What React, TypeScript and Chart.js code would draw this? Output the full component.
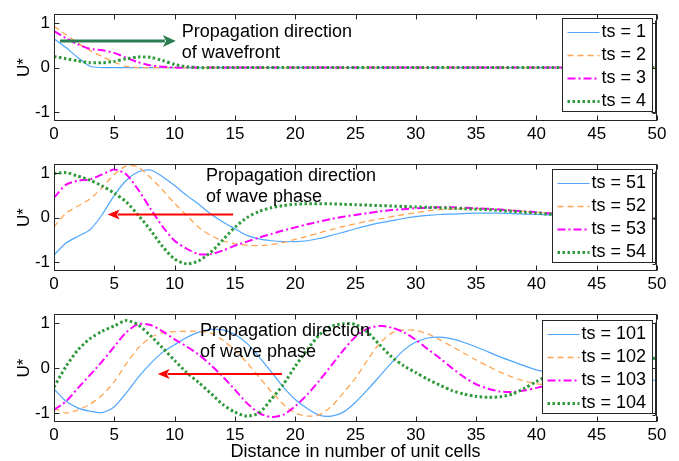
import React, { useEffect, useRef } from "react";
import { Chart, registerables } from "chart.js";
Chart.register(...registerables);

// ---------- data ----------
const xCells = [
  0, 1, 2, 3, 4, 5, 6, 7, 8, 9, 10, 11, 12, 13, 14, 15, 16, 17, 18, 19, 20, 21, 22, 23, 24, 25,
  26, 27, 28, 29, 30, 31, 32, 33, 34, 35, 36, 37, 38, 39, 40, 41, 42, 43, 44, 45, 46, 47, 48, 49, 50,
];
const xTickValues = [0, 5, 10, 15, 20, 25, 30, 35, 40, 45, 50];
const yTickValues = [-1, 0, 1];

const p1Labels = ["ts = 1", "ts = 2", "ts = 3", "ts = 4"];
const p1Ts1 = [
  0.65, 0.45, 0.22, 0.03, 0, 0, 0, 0, 0, 0,
  0, 0, 0, 0, 0, 0, 0, 0, 0, 0,
  0, 0, 0, 0, 0, 0, 0, 0, 0, 0,
  0, 0, 0, 0, 0, 0, 0, 0, 0, 0,
  0, 0, 0, 0, 0, 0, 0, 0, 0, 0,
  0,
];
const p1Ts2 = [
  0.93, 0.74, 0.55, 0.38, 0.25, 0.12, 0.03, 0, 0, 0,
  0, 0, 0, 0, 0, 0, 0, 0, 0, 0,
  0, 0, 0, 0, 0, 0, 0, 0, 0, 0,
  0, 0, 0, 0, 0, 0, 0, 0, 0, 0,
  0, 0, 0, 0, 0, 0, 0, 0, 0, 0,
  0,
];
const p1Ts3 = [
  0.82, 0.66, 0.52, 0.42, 0.39, 0.33, 0.22, 0.12, 0.05, 0.02,
  0, 0, 0, 0, 0, 0, 0, 0, 0, 0,
  0, 0, 0, 0, 0, 0, 0, 0, 0, 0,
  0, 0, 0, 0, 0, 0, 0, 0, 0, 0,
  0, 0, 0, 0, 0, 0, 0, 0, 0, 0,
  0,
];
const p1Ts4 = [
  0.25, 0.2, 0.15, 0.11, 0.11, 0.14, 0.2, 0.24, 0.23, 0.16,
  0.07, 0.02, 0, 0, 0, 0, 0, 0, 0, 0,
  0, 0, 0, 0, 0, 0, 0, 0, 0, 0,
  0, 0, 0, 0, 0, 0, 0, 0, 0, 0,
  0, 0, 0, 0, 0, 0, 0, 0, 0, 0,
  0,
];

const p2Labels = ["ts = 51", "ts = 52", "ts = 53", "ts = 54"];
const p2Ts51 = [
  -0.84, -0.57, -0.42, -0.27, 0.07, 0.5, 0.84, 1.03, 1.07, 0.92,
  0.72, 0.5, 0.3, 0.08, -0.1, -0.25, -0.4, -0.48, -0.52, -0.54,
  -0.54, -0.52, -0.47, -0.4, -0.33, -0.25, -0.18, -0.12, -0.07, -0.02,
  0.02, 0.05, 0.07, 0.08, 0.09, 0.1, 0.1, 0.1, 0.09, 0.08,
  0.07, 0.06, 0.05, 0.04, 0.03, 0.02, 0.01, 0, -0.01, -0.02,
  -0.03,
];
const p2Ts52 = [
  -0.21, 0.1, 0.26, 0.42, 0.68, 0.97, 1.16, 1.13, 0.9, 0.62,
  0.32, 0.05, -0.22, -0.4, -0.52, -0.59, -0.62, -0.63, -0.61, -0.56,
  -0.49, -0.42, -0.34, -0.27, -0.2, -0.14, -0.08, -0.03, 0.02, 0.07,
  0.11, 0.15, 0.18, 0.19, 0.2, 0.2, 0.19, 0.18, 0.16, 0.14,
  0.12, 0.1, 0.08, 0.06, 0.04, 0.02, 0.01, 0, -0.01, -0.02,
  -0.03,
];
const p2Ts53 = [
  0.45, 0.74, 0.83, 0.86, 0.97, 1.08, 0.97, 0.62, 0.2, -0.2,
  -0.52, -0.7, -0.82, -0.82, -0.74, -0.63, -0.54, -0.45, -0.37, -0.29,
  -0.22, -0.15, -0.09, -0.03, 0.02, 0.06, 0.1, 0.14, 0.17, 0.19,
  0.21, 0.22, 0.23, 0.23, 0.22, 0.21, 0.2, 0.18, 0.16, 0.14,
  0.12, 0.1, 0.08, 0.06, 0.04, 0.02, 0.01, 0, -0.01, -0.02,
  -0.03,
];
const p2Ts54 = [
  0.99, 1.01, 0.93, 0.84, 0.71, 0.55, 0.35, 0.05, -0.28, -0.65,
  -0.93, -1.04, -0.97, -0.78, -0.5, -0.22, 0, 0.14, 0.22, 0.27,
  0.3, 0.31, 0.31, 0.31, 0.3, 0.29, 0.28, 0.27, 0.26, 0.25,
  0.24, 0.23, 0.22, 0.21, 0.2, 0.19, 0.18, 0.16, 0.14, 0.12,
  0.1, 0.08, 0.06, 0.05, 0.04, 0.03, 0.02, 0.01, 0, -0.01,
  -0.02,
];

const p3Labels = ["ts = 101", "ts = 102", "ts = 103", "ts = 104"];
const p3Ts101 = [
  -0.47, -0.74, -0.89, -0.96, -0.99, -0.86, -0.55, -0.2, 0.1, 0.35,
  0.52, 0.68, 0.8, 0.86, 0.85, 0.75, 0.55, 0.25, -0.08, -0.42,
  -0.7, -0.9, -1.05, -1.07, -0.98, -0.76, -0.48, -0.18, 0.12, 0.4,
  0.58, 0.67, 0.69, 0.65, 0.57, 0.47, 0.36, 0.25, 0.15, 0.05,
  -0.04, -0.1, -0.15, -0.19, -0.22, -0.24, -0.25, -0.26, -0.27, -0.27,
  -0.27,
];
const p3Ts102 = [
  -0.89, -1.0, -0.93, -0.8, -0.6, -0.3, 0.1, 0.45, 0.68, 0.79,
  0.81, 0.82, 0.82, 0.78, 0.62, 0.4, 0.12, -0.2, -0.52, -0.8,
  -1.0, -1.07, -1.04, -0.85, -0.55, -0.22, 0.18, 0.55, 0.78, 0.85,
  0.84, 0.76, 0.63, 0.48, 0.33, 0.18, 0.04, -0.09, -0.2, -0.29,
  -0.35, -0.37, -0.37, -0.35, -0.32, -0.29, -0.25, -0.21, -0.18, -0.15,
  -0.13,
];
const p3Ts103 = [
  -0.93, -0.74, -0.44, -0.15, 0.15, 0.48, 0.8, 0.98, 0.96, 0.82,
  0.64, 0.48, 0.3, 0.07, -0.19, -0.48, -0.78, -1.0, -1.09, -1.04,
  -0.85, -0.59, -0.28, 0.06, 0.4, 0.7, 0.88, 0.94, 0.9, 0.8,
  0.63, 0.42, 0.22, 0, -0.2, -0.36, -0.46, -0.52, -0.53, -0.5,
  -0.44, -0.38, -0.32, -0.26, -0.2, -0.14, -0.09, -0.04, 0, 0.04,
  0.07,
];
const p3Ts104 = [
  -0.42, 0.04, 0.41, 0.66, 0.82, 0.94, 1.06, 0.96, 0.72, 0.45,
  0.17, -0.1, -0.32, -0.56, -0.81, -0.98, -1.07, -1.0, -0.7, -0.37,
  0.04, 0.41, 0.74, 0.93, 0.99, 0.97, 0.8, 0.52, 0.25, 0.05,
  -0.1, -0.25, -0.38, -0.5, -0.58, -0.63, -0.65, -0.64, -0.58, -0.45,
  -0.3, -0.16, -0.05, 0.04, 0.1, 0.14, 0.17, 0.19, 0.2, 0.21,
  0.22,
];

const annoLinesWavefront = ["Propagation direction", "of wavefront"];
const annoLinesPhase = ["Propagation direction", "of wave phase"];
const xTitle = "Distance in number of unit cells";
const yTitle = "U*";

// ---------- styles ----------
const FONT = "'Liberation Sans', Arial, Helvetica, sans-serif";
const SERIES_STYLE = [
  { color: "#4ea6ff", dash: [] as number[], width: 1.2, order: 4 },
  { color: "#ffa552", dash: [6, 4], width: 1.3, order: 3 },
  { color: "#ff00ff", dash: [8, 3, 2, 3], width: 2, order: 2 },
  { color: "#2f9a3c", dash: [2.5, 2.5], width: 3, order: 1 },
];

type Decor = {
  legendTop: number;
  text: { x: number; y: number; lines: string[] };
  arrow: { x1: number; x2: number; y: number; color: string; width: number; headLen: number; headHalf: number };
};

function makeDecor(cfg: Decor) {
  return {
    id: "decor",
    afterDatasetsDraw(chart: any) {
      const ctx: CanvasRenderingContext2D = chart.ctx;
      const { left, right, top, bottom } = chart.chartArea;
      const xs = chart.scales.x;
      const ys = chart.scales.y;
      const L = Math.round(left) + 0.5;
      const R = Math.round(right) - 0.5;
      const T = Math.round(top) + 0.5;
      const B = Math.round(bottom) - 0.5;
      ctx.save();
      // box + inward ticks
      ctx.strokeStyle = "#262626";
      ctx.lineWidth = 1;
      ctx.setLineDash([]);
      ctx.strokeRect(L, T, R - L, B - T);
      ctx.beginPath();
      xTickValues.forEach((v) => {
        const px = Math.round(xs.getPixelForValue(v)) + 0.5;
        ctx.moveTo(px, B);
        ctx.lineTo(px, B - 5);
        ctx.moveTo(px, T);
        ctx.lineTo(px, T + 5);
      });
      yTickValues.forEach((v) => {
        const py = Math.round(ys.getPixelForValue(v)) + 0.5;
        ctx.moveTo(L, py);
        ctx.lineTo(L + 5, py);
        ctx.moveTo(R, py);
        ctx.lineTo(R - 5, py);
      });
      ctx.stroke();

      // annotation text
      ctx.fillStyle = "#000";
      ctx.font = `18px ${FONT}`;
      ctx.textAlign = "left";
      ctx.textBaseline = "middle";
      const tx = xs.getPixelForValue(cfg.text.x);
      const ty = ys.getPixelForValue(cfg.text.y);
      cfg.text.lines.forEach((ln, i) => ctx.fillText(ln, tx, ty + i * 21));

      // arrow
      const a = cfg.arrow;
      const ax1 = xs.getPixelForValue(a.x1);
      const ax2 = xs.getPixelForValue(a.x2);
      const ay = ys.getPixelForValue(a.y);
      const dir = Math.sign(ax2 - ax1);
      ctx.strokeStyle = a.color;
      ctx.fillStyle = a.color;
      ctx.lineWidth = a.width;
      ctx.beginPath();
      ctx.moveTo(ax1, ay);
      ctx.lineTo(ax2 - dir * (a.headLen - 2), ay);
      ctx.stroke();
      ctx.beginPath();
      ctx.moveTo(ax2, ay);
      ctx.lineTo(ax2 - dir * a.headLen, ay - a.headHalf);
      ctx.lineTo(ax2 - dir * a.headLen * 0.75, ay);
      ctx.lineTo(ax2 - dir * a.headLen, ay + a.headHalf);
      ctx.closePath();
      ctx.fill();

      // legend
      ctx.font = `18px ${FONT}`;
      const datasets = chart.data.datasets;
      let maxW = 0;
      datasets.forEach((d: any) => (maxW = Math.max(maxW, ctx.measureText(d.label).width)));
      const sample = 32;
      const boxW = Math.round(5 + sample + 2 + maxW + 6);
      const boxH = 93;
      const bx = Math.round(right) - 5 - boxW + 0.5;
      const by = Math.round(top) + cfg.legendTop + 0.5;
      ctx.fillStyle = "#fff";
      ctx.fillRect(bx, by, boxW, boxH);
      ctx.strokeStyle = "#262626";
      ctx.lineWidth = 1;
      ctx.setLineDash([]);
      ctx.strokeRect(bx, by, boxW, boxH);
      ctx.beginPath();
      ctx.moveTo(bx + boxW + 3, by + 2);
      ctx.lineTo(bx + boxW + 3, by + boxH + 2);
      ctx.lineTo(bx + boxW, by + boxH + 2);
      ctx.stroke();
      datasets.forEach((d: any, i: number) => {
        const ry = by + 13 + i * 23;
        ctx.strokeStyle = d.borderColor;
        ctx.lineWidth = d.borderWidth;
        ctx.setLineDash(d.borderDash || []);
        ctx.beginPath();
        ctx.moveTo(bx + 5, Math.round(ry) + 0.5);
        ctx.lineTo(bx + 5 + sample, Math.round(ry) + 0.5);
        ctx.stroke();
        ctx.setLineDash([]);
        ctx.fillStyle = "#000";
        ctx.textAlign = "left";
        ctx.textBaseline = "middle";
        ctx.fillText(d.label, bx + 5 + sample + 2, ry + 1);
      });
      ctx.restore();
    },
  };
}

type PanelProps = {
  top: number;
  height: number;
  padTop: number;
  xAxisH: number;
  labels: string[];
  series: number[][];
  showXTitle: boolean;
  decor: Decor;
};

function Panel(props: PanelProps) {
  const ref = useRef<HTMLCanvasElement>(null);
  useEffect(() => {
    const { padTop, xAxisH, labels, series, showXTitle, decor } = props;
    const datasets = series.map((vals, i) => ({
      label: labels[i],
      data: xCells.map((x, j) => ({ x, y: vals[j] })),
      borderColor: SERIES_STYLE[i].color,
      borderDash: SERIES_STYLE[i].dash,
      borderWidth: SERIES_STYLE[i].width,
      order: SERIES_STYLE[i].order,
      pointRadius: 0,
      tension: 0.25,
      fill: false,
    }));
    const chart = new Chart(ref.current as HTMLCanvasElement, {
      type: "line",
      data: { datasets },
      plugins: [makeDecor(decor)],
      options: {
        responsive: false,
        animation: false,
        events: [],
        layout: { padding: { top: padTop, right: 22, left: 0, bottom: 0 } },
        plugins: { legend: { display: false }, tooltip: { enabled: false } },
        scales: {
          x: {
            type: "linear",
            min: 0,
            max: 50,
            afterBuildTicks: (s: any) => {
              s.ticks = xTickValues.map((v) => ({ value: v }));
            },
            afterFit: (s: any) => {
              s.height = xAxisH;
            },
            ticks: { font: { family: FONT, size: 17 }, color: "#000", padding: 3, maxRotation: 0, autoSkip: false },
            grid: { display: false, drawTicks: false },
            border: { display: false },
            title: {
              display: showXTitle,
              text: xTitle,
              color: "#000",
              font: { family: FONT, size: 18 },
              padding: { top: 0, bottom: -2 },
            },
          },
          y: {
            type: "linear",
            min: -1.2,
            max: 1.2,
            afterBuildTicks: (s: any) => {
              s.ticks = yTickValues.map((v) => ({ value: v }));
            },
            afterFit: (s: any) => {
              s.width = 54;
            },
            ticks: { font: { family: FONT, size: 17 }, color: "#000", padding: 4 },
            grid: { display: false, drawTicks: false },
            border: { display: false },
            title: {
              display: true,
              text: yTitle,
              color: "#000",
              font: { family: FONT, size: 17 },
              padding: { top: 14, bottom: 0 },
            },
          },
        },
      } as any,
    });
    return () => chart.destroy();
  }, []);
  return (
    <canvas
      ref={ref}
      width={679}
      height={props.height}
      style={{ position: "absolute", left: 0, top: props.top, width: 679, height: props.height }}
    />
  );
}

export default function App() {
  return (
    <div style={{ position: "fixed", left: 0, top: 0, width: 679, height: 461, background: "#fff" }}>
      <Panel
        top={0}
        height={150}
        padTop={13}
        xAxisH={29}
        labels={p1Labels}
        series={[p1Ts1, p1Ts2, p1Ts3, p1Ts4]}
        showXTitle={false}
        decor={{
          legendTop: 4,
          text: { x: 10.6, y: 0.8, lines: annoLinesWavefront },
          arrow: { x1: 0.5, x2: 10.1, y: 0.6, color: "#2a7d50", width: 3, headLen: 13, headHalf: 6 },
        }}
      />
      <Panel
        top={150}
        height={150}
        padTop={13}
        xAxisH={29}
        labels={p2Labels}
        series={[p2Ts51, p2Ts52, p2Ts53, p2Ts54]}
        showXTitle={false}
        decor={{
          legendTop: 5,
          text: { x: 12.6, y: 0.93, lines: annoLinesPhase },
          arrow: { x1: 14.85, x2: 4.45, y: 0.07, color: "#ff0000", width: 2, headLen: 12, headHalf: 5 },
        }}
      />
      <Panel
        top={300}
        height={161}
        padTop={14}
        xAxisH={39}
        labels={p3Labels}
        series={[p3Ts101, p3Ts102, p3Ts103, p3Ts104]}
        showXTitle={true}
        decor={{
          legendTop: 6,
          text: { x: 12.1, y: 0.82, lines: annoLinesPhase },
          arrow: { x1: 18.9, x2: 8.6, y: -0.13, color: "#ff0000", width: 2, headLen: 12, headHalf: 5 },
        }}
      />
    </div>
  );
}
